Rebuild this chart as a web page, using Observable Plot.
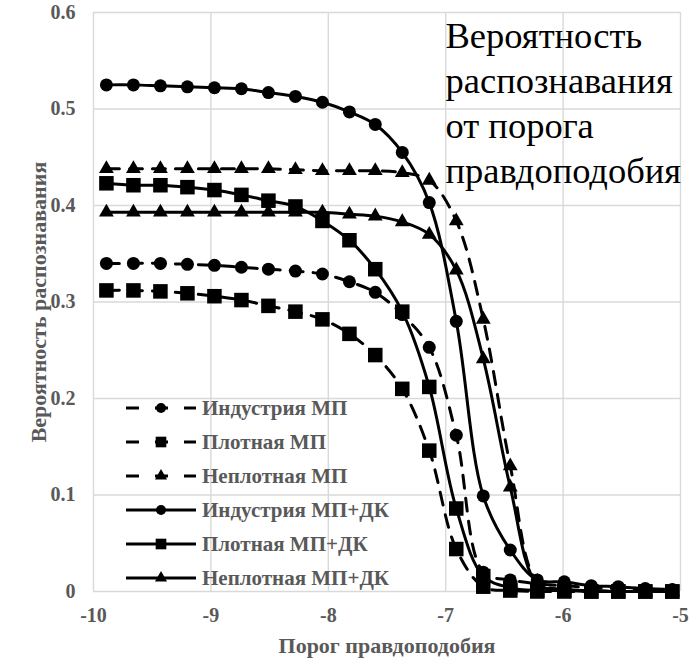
<!DOCTYPE html>
<html>
<head>
<meta charset="utf-8">
<script src="https://cdn.jsdelivr.net/npm/d3@7"></script>
<script src="https://cdn.jsdelivr.net/npm/@observablehq/plot@0.6"></script>
<style>
  body { margin: 0; background: #fff; }
  #chart { width: 690px; height: 662px; }
  #chart svg, #chart svg text { font-family: "Liberation Serif", "Times New Roman", serif !important; }
</style>
</head>
<body>
<div id="chart"></div>
<script>
// ---- data ----
const thresholds = [-9.89, -9.66, -9.43, -9.20, -8.97, -8.74, -8.51, -8.28, -8.05, -7.82, -7.60,
                    -7.37, -7.14, -6.91, -6.68, -6.45, -6.22, -5.99, -5.76, -5.53, -5.30, -5.07];

const industryMP   = [0.340, 0.340, 0.340, 0.339, 0.338, 0.336, 0.334, 0.332, 0.329, 0.321, 0.310,
                      0.287, 0.253, 0.162, 0.020, 0.012, 0.008, 0.006, 0.004, 0.003, 0.002, 0.001];
const denseMP      = [0.312, 0.312, 0.311, 0.309, 0.306, 0.302, 0.296, 0.290, 0.282, 0.267, 0.245,
                      0.210, 0.146, 0.044, 0.005, 0.001, 0.000, 0.000, 0.000, 0.000, 0.000, 0.000];
const looseMP      = [0.438, 0.438, 0.438, 0.438, 0.438, 0.438, 0.438, 0.437, 0.436, 0.436, 0.436,
                      0.434, 0.426, 0.384, 0.282, 0.130, 0.010, 0.002, 0.001, 0.000, 0.000, 0.000];
const industryMPDK = [0.525, 0.525, 0.524, 0.523, 0.522, 0.521, 0.517, 0.513, 0.507, 0.497, 0.484,
                      0.455, 0.403, 0.280, 0.099, 0.043, 0.012, 0.010, 0.006, 0.005, 0.003, 0.002];
const denseMPDK    = [0.423, 0.421, 0.421, 0.419, 0.416, 0.411, 0.405, 0.399, 0.384, 0.364, 0.334,
                      0.290, 0.212, 0.086, 0.016, 0.004, 0.001, 0.001, 0.000, 0.000, 0.000, 0.000];
const looseMPDK    = [0.393, 0.393, 0.393, 0.393, 0.393, 0.393, 0.393, 0.393, 0.393, 0.391, 0.389,
                      0.383, 0.370, 0.333, 0.241, 0.108, 0.008, 0.002, 0.001, 0.000, 0.000, 0.000];

const seriesNames   = ["Индустрия МП", "Плотная МП", "Неплотная МП",
                       "Индустрия МП+ДК", "Плотная МП+ДК", "Неплотная МП+ДК"];
const seriesValues  = [industryMP, denseMP, looseMP, industryMPDK, denseMPDK, looseMPDK];
const seriesSymbols = ["circle", "square", "triangle", "circle", "square", "triangle"];
const seriesDashed  = [true, true, true, false, false, false];

const xTicks = [-10, -9, -8, -7, -6, -5];
const yTicks = [0, 0.1, 0.2, 0.3, 0.4, 0.5, 0.6];

const chartTitle = "Вероятность\nраспознавания\nот порога\nправдоподобия";
const xTitle = "Порог правдоподобия";
const yTitle = "Вероятность распознавания";

// ---- build ----
const FONT = "Liberation Serif, Times New Roman, serif";
const symbolR = {circle: 6.5, square: 8.2, triangle: 5.5};
const legendR = {circle: 5, square: 6, triangle: 4.5};

const rows = seriesNames.map((name, s) =>
  thresholds.map((x, i) => ({series: name, x, y: seriesValues[s][i]})));

const seriesMarks = [];
rows.forEach((data, s) => {
  seriesMarks.push(Plot.line(data, {
    x: "x", y: "y", curve: "catmull-rom",
    stroke: "black", strokeWidth: 3,
    strokeDasharray: seriesDashed[s] ? "13,10" : null
  }));
  seriesMarks.push(Plot.dot(data, {
    x: "x", y: "y", symbol: () => seriesSymbols[s],
    r: symbolR[seriesSymbols[s]], fill: "black", stroke: "none"
  }));
});

const chart = Plot.plot({
  width: 690,
  height: 662,
  marginLeft: 93,
  marginRight: 10,
  marginTop: 12,
  marginBottom: 71,
  style: {fontFamily: FONT, color: "#595959", background: "#fff"},
  x: {domain: [-10, -5]},
  y: {domain: [0, 0.6]},
  marks: [
    Plot.gridY(yTicks, {stroke: "#d9d9d9", strokeOpacity: 1, strokeWidth: 1.4}),
    Plot.gridX(xTicks, {stroke: "#d9d9d9", strokeOpacity: 1, strokeWidth: 1.4}),
    Plot.axisY(yTicks, {
      tickSize: 0, tickPadding: 18, fontSize: 20, fontWeight: "bold", fontFamily: FONT,
      tickFormat: d => d === 0 ? "0" : d.toFixed(1), label: null
    }),
    Plot.axisX(xTicks, {
      tickSize: 0, tickPadding: 16, fontSize: 20, fontWeight: "bold", fontFamily: FONT,
      tickFormat: d => `${d}`, label: null
    }),
    ...seriesMarks,
    Plot.text([chartTitle], {
      text: d => d, frameAnchor: "top-left", dx: 352, dy: 4,
      textAnchor: "start", lineAnchor: "top", lineHeight: 1.233,
      fontSize: 36.5, fill: "black", fontFamily: FONT
    }),
    Plot.text([xTitle], {
      text: d => d, frameAnchor: "bottom", dy: 54, textAnchor: "middle", lineAnchor: "middle",
      fontSize: 22, fontWeight: "bold", fill: "#595959", fontFamily: FONT
    }),
    Plot.text([yTitle], {
      text: d => d, frameAnchor: "left", dx: -55, rotate: -90, textAnchor: "middle", lineAnchor: "middle",
      fontSize: 22, fontWeight: "bold", fill: "#595959", fontFamily: FONT
    })
  ]
});

// ---- legend (inside plot area, lower left) ----
const svg = d3.select(chart);
const lg = svg.append("g").attr("class", "legend");
seriesNames.forEach((name, s) => {
  const cy = 408 + 34 * s;
  const row = lg.append("g").attr("transform", `translate(0,${cy})`);
  row.append("line")
    .attr("x1", 126).attr("x2", 196).attr("y1", 0).attr("y2", 0)
    .attr("stroke", "black").attr("stroke-width", 3)
    .attr("stroke-dasharray", seriesDashed[s] ? "13,16" : null);
  const sym = seriesSymbols[s] === "circle" ? d3.symbolCircle
            : seriesSymbols[s] === "square" ? d3.symbolSquare : d3.symbolTriangle;
  const rr = legendR[seriesSymbols[s]];
  row.append("path")
    .attr("transform", "translate(161,0)")
    .attr("d", d3.symbol(sym, Math.PI * rr * rr)())
    .attr("fill", "black");
  row.append("text")
    .attr("x", 202).attr("y", 0).attr("dy", "0.35em")
    .attr("text-anchor", "start")
    .attr("fill", "#595959")
    .attr("font-family", FONT).attr("font-size", 21).attr("font-weight", "bold")
    .text(name);
});

document.getElementById("chart").appendChild(chart);
</script>
</body>
</html>
